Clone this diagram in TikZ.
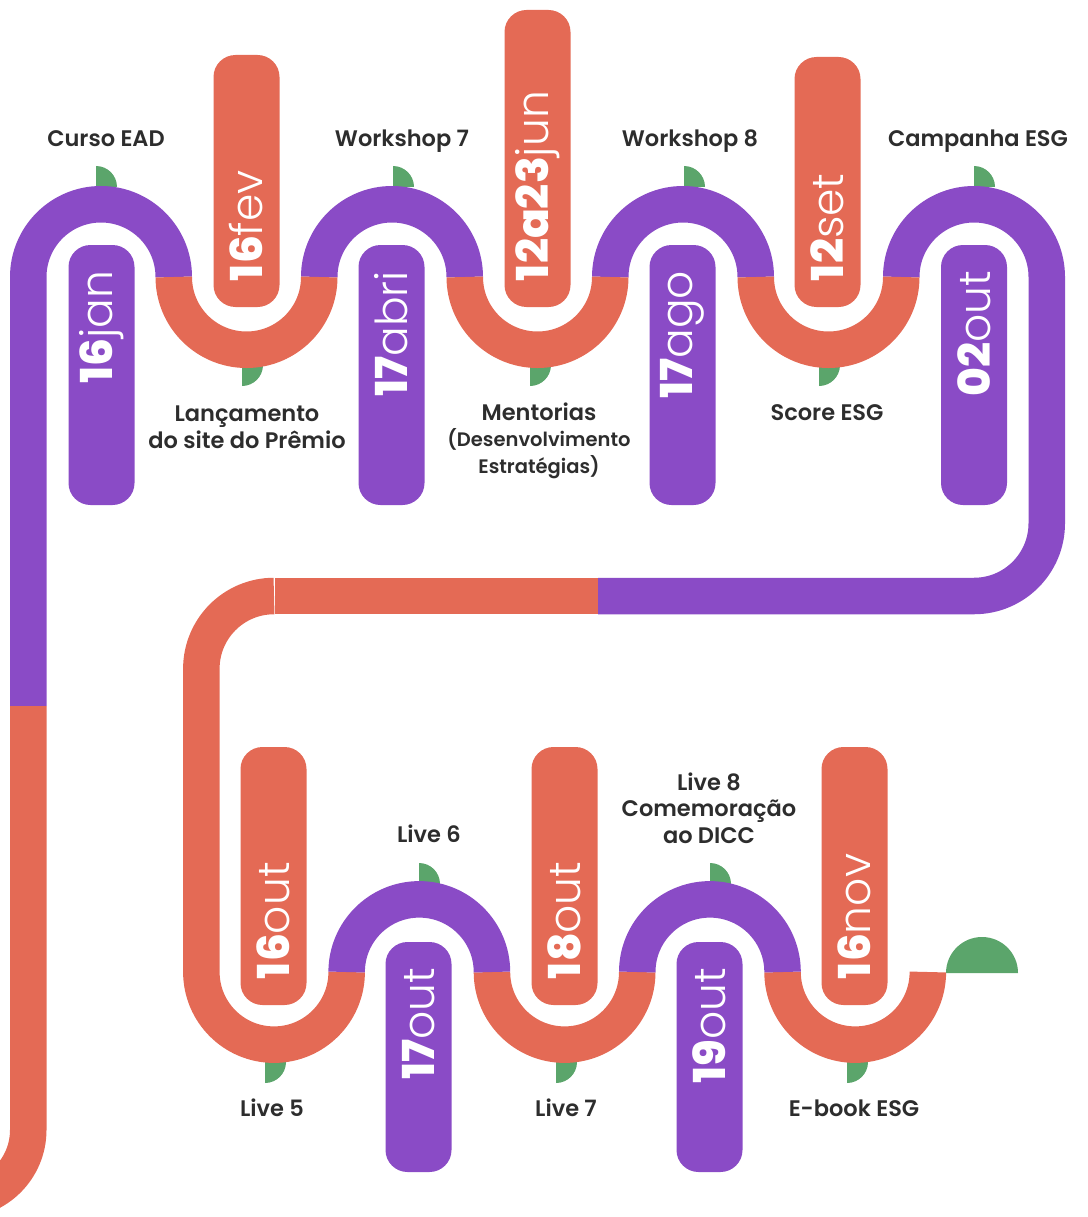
\documentclass[tikz,border=0pt]{standalone}
\usepackage{fontspec}
\setmainfont{Poppins}
\newfontfamily\medfont{Poppins SemiBold}
\newfontfamily\lightfont{Poppins Light}
\newfontfamily\heavyfont{Poppins ExtraBold}
\definecolor{purp}{RGB}{138,75,198}
\definecolor{orng}{RGB}{228,106,85}
\definecolor{leafg}{RGB}{91,165,107}
\definecolor{ink}{RGB}{45,45,45}
\newcommand{\dt}[2]{{\heavyfont #1}{\lightfont #2}}
\newcommand{\smallfnt}{\fontsize{19.5}{26}\selectfont}
\tikzset{
  track/.style={line width=36.5pt, line cap=butt},
  pill/.style={rotate=90, rounded corners=22pt, minimum height=66pt,
    inner xsep=26pt, inner ysep=0pt, text=white,
    font=\fontsize{44}{44}\selectfont},
  lbl/.style={text=ink, font=\medfont\fontsize{22.5}{26.5}\selectfont,
    align=center, anchor=base, inner sep=0pt},
  leaf/.style={fill=leafg},
}

\begin{document}
\begin{tikzpicture}[x=1pt,y=1pt]
  \useasboundingbox (0,0) rectangle (1087,-1217);
  \clip (0,0) rectangle (1087,-1217);

  % leaves under the track
  \foreach \x in {96,393,684,974} \fill[leaf] (\x,-187) -- ++(21,0) arc(0:90:21) -- cycle;
  \foreach \x in {242,530,819} \fill[leaf] (\x,-365) -- ++(0,-21) arc(-90:0:21) -- cycle;
  \foreach \x in {419,710} \fill[leaf] (\x,-884) -- ++(21,0) arc(0:90:21) -- cycle;
  \foreach \x in {265,556,847} \fill[leaf] (\x,-1062) -- ++(0,-21) arc(-90:0:21) -- cycle;

  % top row
  \draw[track,purp] (28.25,-706) -- (28.25,-277) arc(180:0:72.75);
  \foreach \c in {392,683} \draw[track,purp] (\c-72.75,-277) arc(180:0:72.75);
  \draw[track,purp] (974-72.75,-277) arc(180:0:72.75) -- (1046.75,-523.25)
    arc(0:-90:72.75) -- (598,-596);
  \foreach \c in {246.5,537.5,828.5} \draw[track,orng] (\c-72.75,-277) arc(180:360:72.75);
  \draw[track,orng] (28.25,-706) -- (28.25,-1130) arc(0:-90:70);
  \draw[track,orng] (598,-596) -- (275,-596);

  % bottom row
  \draw[track,orng] (274,-596) arc(90:180:72.65) -- (201.35,-972) arc(180:360:72.65);
  \foreach \c in {564.6,855.2} \draw[track,orng] (\c-72.65,-972) arc(180:360:72.65);
  \foreach \c in {419.3,709.9} \draw[track,purp] (\c-72.65,-972) arc(180:0:72.65);
  \fill[leafg] (946,-973) arc(180:0:36) -- cycle;

  % dates
  \node[pill, fill=purp, text width=208pt, align=right] (jan) at (101.5,-375) {\dt{16}{jan}};
  \node[pill, fill=orng, text width=200pt, align=left] (fev) at (246.5,-181) {\dt{16}{fev}};
  \node[pill, fill=purp, text width=208pt, align=right] (abri) at (391.5,-375) {\dt{17}{abri}};
  \node[pill, fill=orng, text width=245pt, align=left] (jun) at (537.5,-158.5) {\dt{12a23}{jun}};
  \node[pill, fill=purp, text width=208pt, align=right] (ago) at (682.5,-375) {\dt{17}{ago}};
  \node[pill, fill=orng, text width=198pt, align=left] (set) at (827.5,-182) {\dt{12}{set}};
  \node[pill, fill=purp, text width=208pt, align=right] (out02) at (974,-375) {\dt{02}{out}};
  \node[pill, fill=orng, text width=206pt, align=left] (out16) at (273.5,-876) {\dt{16}{out}};
  \node[pill, fill=purp, text width=178pt, align=right] (out17) at (418.5,-1057) {\dt{17}{out}};
  \node[pill, fill=orng, text width=206pt, align=left] (out18) at (564.5,-876) {\dt{18}{out}};
  \node[pill, fill=purp, text width=178pt, align=right] (out19) at (709.5,-1057) {\dt{19}{out}};
  \node[pill, fill=orng, text width=206pt, align=left] (nov16) at (854.5,-876) {\dt{16}{nov}};

  % events (base = last line)
  \node[lbl] (ead) at (106,-147) {Curso EAD};
  \node[lbl] (ws7) at (402,-147) {Workshop 7};
  \node[lbl] (ws8) at (690,-147) {Workshop 8};
  \node[lbl] (camp) at (978,-147) {Campanha ESG};
  \node[lbl] (site) at (247,-448) {Lançamento\\do site do Prêmio};
  \node[lbl] (ment) at (539,-473) {Mentorias\\\smallfnt(Desenvolvimento\\\smallfnt Estratégias)};
  \node[lbl] (score) at (827,-420) {Score ESG};
  \node[lbl] (live5) at (272,-1116) {Live 5};
  \node[lbl] (live6) at (429,-842) {Live 6};
  \node[lbl] (live7) at (566,-1116) {Live 7};
  \node[lbl] (live8) at (709,-843) {Live 8\\Comemoração\\ao DICC};
  \node[lbl] (ebook) at (854,-1116) {E-book ESG};
\end{tikzpicture}
\end{document}
